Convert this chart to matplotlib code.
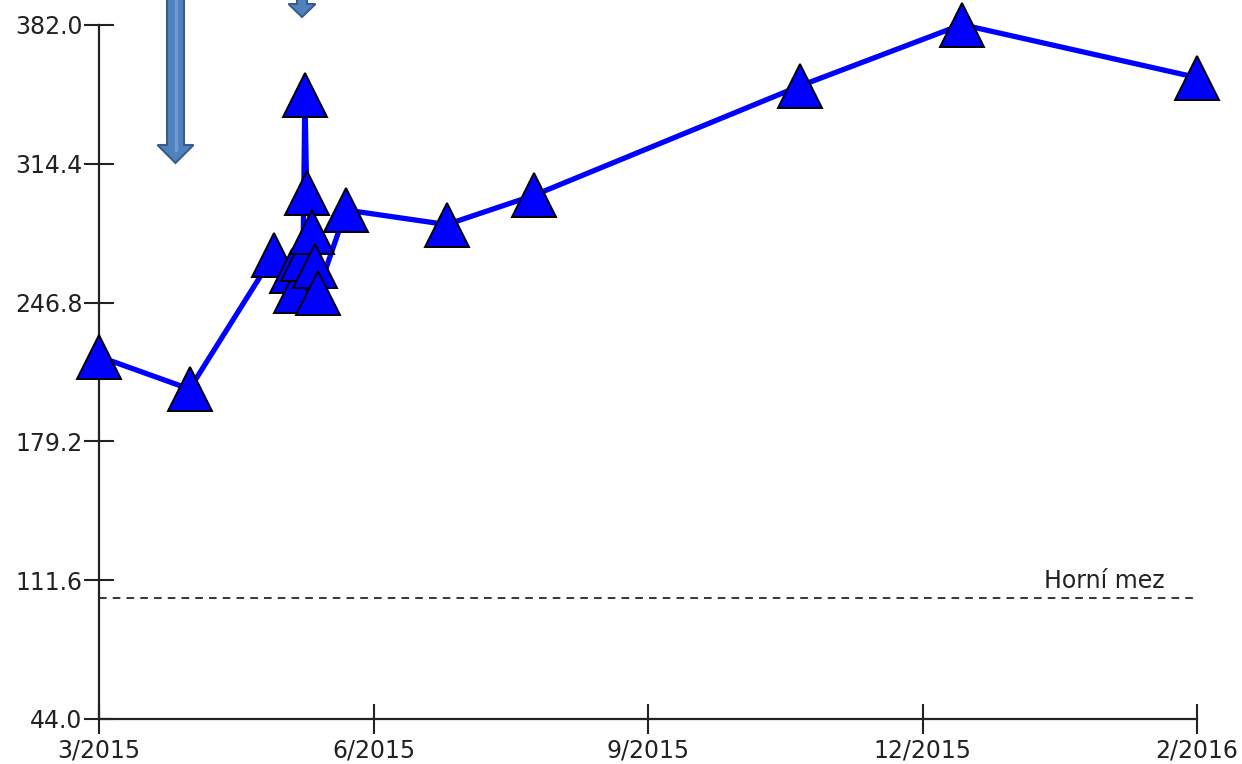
import matplotlib
matplotlib.use("Agg")
import matplotlib.pyplot as plt
from matplotlib.patches import FancyArrow

# months since 3/2015 on the (evenly spaced) label axis
x_pos = [0.0, 0.99, 1.91, 2.11, 2.15, 2.23, 2.25, 2.27, 2.33, 2.36, 2.39, 2.70,
         3.80, 4.75, 7.66, 9.43, 12.0]
values = [220.5, 204.7, 270.0, 262.0, 252.5, 268.0, 348.1, 300.4, 281.2, 264.4,
          251.7, 291.9, 284.8, 299.0, 352.3, 382.2, 356.4]
x_ticks = [0, 3, 6, 9, 12]
x_labels = ["3/2015", "6/2015", "9/2015", "12/2015", "2/2016"]
y_ticks = [44.0, 111.6, 179.2, 246.8, 314.4, 382.0]
limit_value = 102.9
limit_label = "Horní mez"

plt.rcParams["font.family"] = ["DejaVu Sans"]
fig = plt.figure(figsize=(12.42, 7.64), dpi=100)
ax = fig.add_axes([99/1242, 45/764, (1197-99)/1242, (719-25)/764])

ax.plot(x_pos, values, color="#0000ff", lw=3.8, zorder=3, clip_on=False)
ax.plot(x_pos, values, ls="none", marker="^", ms=32, mfc="#0000ff", mec="black",
        mew=1.4, zorder=4, clip_on=False)

ax.axhline(limit_value, xmin=0, xmax=1, color="black", lw=1.1, ls=(0, (5, 4)), zorder=2)
ax.text(11.65, limit_value + 2.5, limit_label, ha="right", va="bottom", fontsize=17, color="#222222")

ax.set_xlim(0, 12); ax.set_ylim(44, 382)
ax.set_xticks(x_ticks); ax.set_xticklabels(x_labels)
ax.set_yticks(y_ticks); ax.set_yticklabels([f"{v:.1f}" for v in y_ticks])
for s in ["top", "right"]:
    ax.spines[s].set_visible(False)
for s in ["left", "bottom"]:
    ax.spines[s].set_linewidth(1.6); ax.spines[s].set_color("#222222")
ax.tick_params(direction="inout", length=22, width=1.5, color="#222222",
               labelsize=17, labelcolor="#222222", pad=3)
ax.tick_params(axis="y", pad=1)

# overlay block arrows (pixel coords)
ov = fig.add_axes([0, 0, 1, 1], zorder=10)
ov.set_xlim(0, 1242); ov.set_ylim(764, 0); ov.axis("off"); ov.patch.set_alpha(0)
ov.add_patch(FancyArrow(175.5, -2, 0, 165, width=17, head_width=36, head_length=18,
                        length_includes_head=True, fc="#4f81bd", ec="#385d8a", lw=1.5))
ov.plot([175.5, 175.5], [0, 150], color="#6d9ad0", lw=2.5)
ov.add_patch(FancyArrow(302, -6, 0, 23, width=10, head_width=27, head_length=13,
                        length_includes_head=True, fc="#4f81bd", ec="#385d8a", lw=1.5))

fig.savefig("out.png", dpi=100)
